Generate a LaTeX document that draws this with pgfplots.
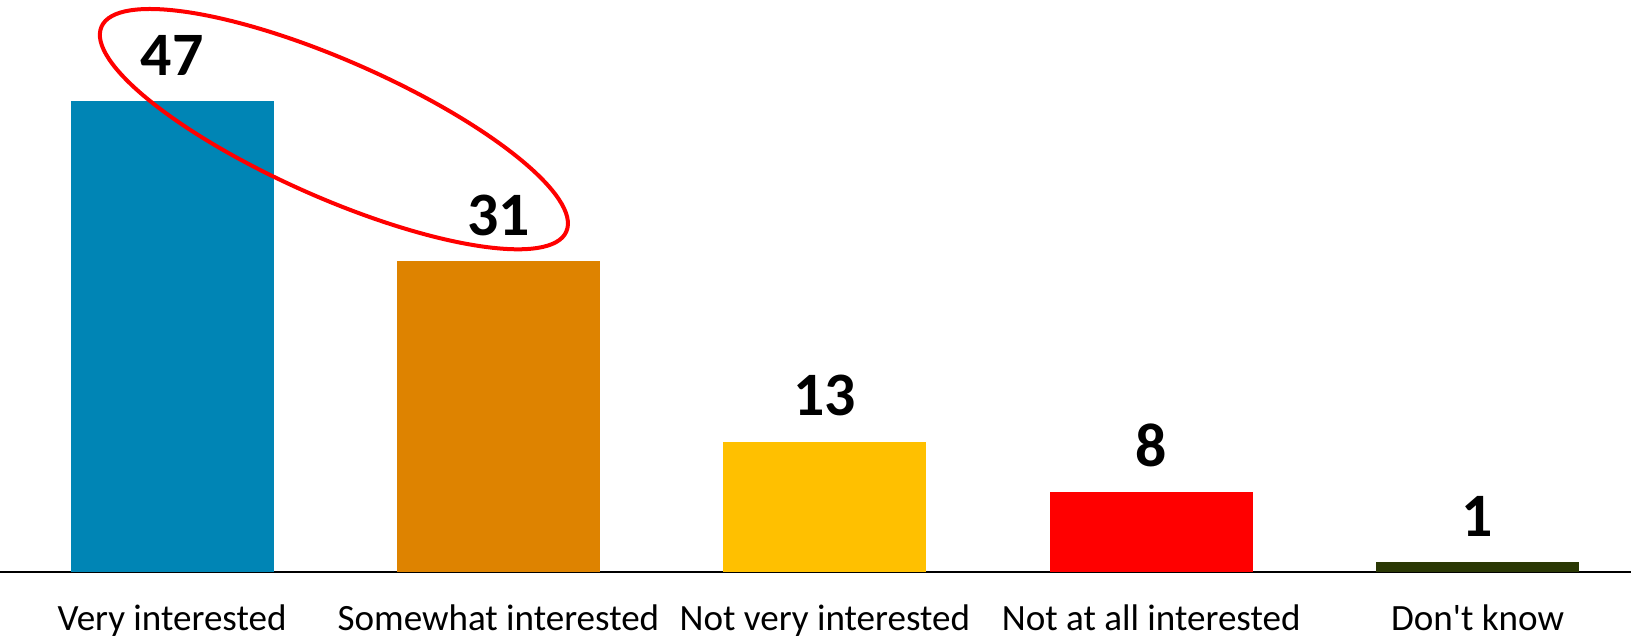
\documentclass[border=0pt]{standalone}
\usepackage{fontspec}
\setmainfont{Carlito}
\usepackage{pgfplots}
\pgfplotsset{compat=1.18}
\usetikzlibrary{shapes.geometric}

\definecolor{cVery}{RGB}{0,133,181}
\definecolor{cSome}{RGB}{222,131,0}
\definecolor{cNotVery}{RGB}{255,192,0}
\definecolor{cNotAll}{RGB}{255,0,0}
\definecolor{cDK}{RGB}{42,56,4}

\begin{document}
\begin{tikzpicture}
\begin{axis}[
    scale only axis,
    width=815.5bp,
    height=286bp,
    xmin=-0.527, xmax=4.470,
    ymin=0, ymax=57.09,
    axis y line=none,
    axis x line*=bottom,
    x axis line style={-, black, line width=1bp},
    major tick length=0pt,
    xtick={0,1,2,3,4},
    xticklabels={Very interested, Somewhat interested, Not very interested, Not at all interested, Don\textquotesingle t know},
    xticklabel style={anchor=base, yshift=-29.2bp, font=\fontsize{18.6}{20}\selectfont},
    ybar,
    bar width=101.5bp,
    bar shift=0pt,
    clip=false,
    /pgf/number format/assume math mode=true,
    nodes near coords,
    every node near coord/.append style={anchor=center, yshift=23bp, black,
        font=\fontsize{31}{31}\selectfont\bfseries},
]
\addplot[fill=cVery, draw=none] coordinates {(0,47)};
\addplot[fill=cSome, draw=none] coordinates {(1,31)};
\addplot[fill=cNotVery, draw=none] coordinates {(2,13)};
\addplot[fill=cNotAll, draw=none] coordinates {(3,8)};
\addplot[fill=cDK, draw=none] coordinates {(4,1)};

% highlight round the two top answers
\node[draw=red, line width=2bp, ellipse, inner sep=0pt,
      minimum width=254bp, minimum height=68.5bp, rotate=-23.8]
    at (axis cs:0.496,44.2) {};
\end{axis}
\pgfresetboundingbox
\path (current axis.north west) rectangle ([yshift=-32.5bp]current axis.south east);
\end{tikzpicture}
\end{document}
